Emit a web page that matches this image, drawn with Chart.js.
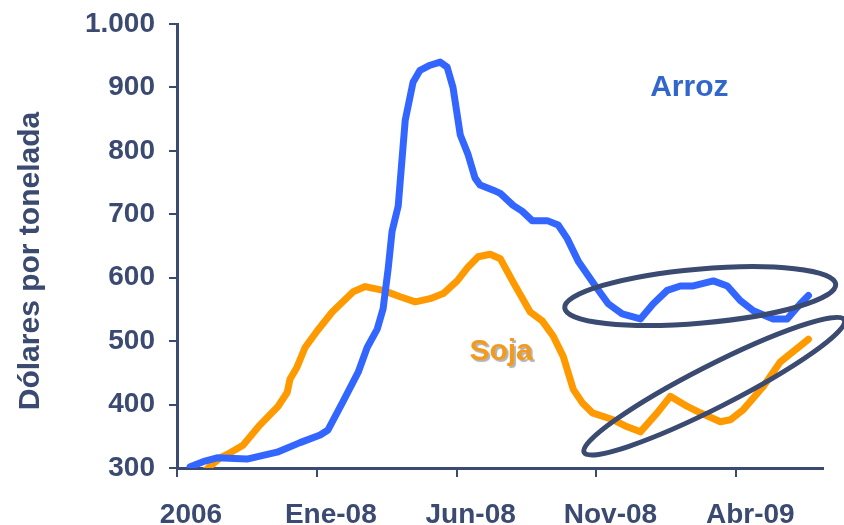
<!DOCTYPE html>
<html lang="es">
<head>
<meta charset="utf-8">
<title>Arroz y Soja</title>
<script src="https://cdn.jsdelivr.net/npm/chart.js@4.4.1/dist/chart.umd.min.js"></script>
<style>
  html, body { margin: 0; padding: 0; background: #fff; }
  #wrap { width: 844px; height: 525px; }
</style>
</head>
<body>
<div id="wrap"><canvas id="priceChart" width="844" height="525"></canvas></div>
<script>
// ---- Data ----
// x values are months counted from the "2006" tick
const xTickPos = [0, 5, 10, 15, 20];
const xTickLabels = ['2006', 'Ene-08', 'Jun-08', 'Nov-08', 'Abr-09'];

const arrozMonths = [0.47, 1.0, 1.43, 2.5, 3.58, 4.4, 5.12, 5.4, 5.94, 6.48, 6.8, 7.16, 7.37, 7.55, 7.69, 7.91,
  8.16, 8.44, 8.69, 9.05, 9.41, 9.66, 9.87, 10.13, 10.41, 10.66, 10.84, 11.31, 11.56, 12.02, 12.34, 12.7,
  13.24, 13.63, 13.95, 14.36, 14.96, 15.42, 15.92, 16.57, 17.03, 17.53, 18.0, 18.46, 19.18, 19.68, 20.14,
  20.61, 21.32, 21.82, 22.29, 22.58];
const arrozValues = [302, 311, 316, 314, 325, 340, 352, 360, 405, 451, 490, 519, 551, 614, 673, 713,
  848, 908, 927, 935, 940, 932, 900, 825, 794, 757, 746, 738, 733, 714, 705, 690,
  690, 683, 662, 625, 587, 559, 543, 535, 559, 580, 587, 587, 595, 587, 564,
  548, 535, 535, 559, 572];

const sojaMonths = [0.82, 1.54, 1.9, 2.36, 2.97, 3.61, 3.94, 4.04, 4.29, 4.58, 5.01, 5.55, 6.3, 6.73, 7.37,
  7.98, 8.52, 9.05, 9.52, 10.02, 10.41, 10.77, 11.2, 11.56, 12.02, 12.63, 13.06, 13.45, 13.81, 14.17,
  14.49, 14.85, 15.6, 16.1, 16.57, 17.17, 17.64, 18.25, 18.71, 19.43, 19.79, 20.25, 20.97, 21.57, 22.58];
const sojaValues = [289, 316, 324, 336, 368, 397, 419, 440, 459, 490, 516, 546, 578, 586, 580,
  570, 562, 567, 575, 595, 617, 633, 637, 630, 593, 546, 532, 508, 476, 424,
  403, 387, 376, 365, 357, 387, 413, 397, 387, 373, 376, 392, 429, 467, 503];

// ---- Styling ----
const NAVY = '#3b4a70';
const BLUE = '#3366ff';
const ORANGE = '#ff9900';
const FONT = '"Liberation Sans", Arial, Helvetica, sans-serif';

// annotations, anchored in data units (month, value)
const labels = [
  { text: 'Arroz', x: 18.32, y: 886, color: '#3366cc', shadow: false },
  { text: 'Soja', x: 11.59, y: 471, color: '#f39a1e', shadow: true },
];
const ellipses = [
  { x: 18.71, y: 571, rx: 136, ry: 27, rot: -5 },
  { x: 19.21, y: 429, rx: 146, ry: 21, rot: -27 },
];

function toPoints(xs, ys) {
  return xs.map((x, i) => ({ x, y: ys[i] }));
}

function formatThousands(v) {
  return String(v).replace(/\B(?=(\d{3})+(?!\d))/g, '.');
}

// ---- Plugin: axis title, series labels and the hand-drawn ellipses ----
const annotationPlugin = {
  id: 'annotations',
  afterDraw(chart) {
    const { ctx, scales } = chart;
    const xs = scales.x, ys = scales.y;

    ctx.save();
    // y axis title
    ctx.translate(31, 261);
    ctx.rotate(-Math.PI / 2);
    ctx.font = `bold 30px ${FONT}`;
    ctx.fillStyle = NAVY;
    ctx.textAlign = 'center';
    ctx.textBaseline = 'middle';
    ctx.fillText('Dólares por tonelada', 0, 0);
    ctx.restore();

    labels.forEach((l) => {
      ctx.save();
      ctx.font = `bold 30px ${FONT}`;
      ctx.fillStyle = l.color;
      ctx.textAlign = 'center';
      ctx.textBaseline = 'alphabetic';
      if (l.shadow) {
        ctx.shadowColor = 'rgba(0,0,0,0.3)';
        ctx.shadowOffsetX = 2;
        ctx.shadowOffsetY = 2;
        ctx.shadowBlur = 1;
      }
      ctx.fillText(l.text, xs.getPixelForValue(l.x), ys.getPixelForValue(l.y));
      ctx.restore();
    });

    ellipses.forEach((e) => {
      ctx.save();
      ctx.strokeStyle = NAVY;
      ctx.lineWidth = 5;
      ctx.beginPath();
      ctx.ellipse(xs.getPixelForValue(e.x), ys.getPixelForValue(e.y), e.rx, e.ry,
        e.rot * Math.PI / 180, 0, Math.PI * 2);
      ctx.stroke();
      ctx.restore();
    });
  },
};

// ---- Chart ----
function initPriceChart() {
  const canvas = document.getElementById('priceChart');
  if (!canvas) return;

  Chart.defaults.font.family = FONT;

  new Chart(canvas.getContext('2d'), {
    type: 'line',
    data: {
      datasets: [
        {
          label: 'Arroz',
          data: toPoints(arrozMonths, arrozValues),
          borderColor: BLUE,
          borderWidth: 7,
          pointRadius: 0,
          tension: 0,
          borderCapStyle: 'round',
          borderJoinStyle: 'round',
        },
        {
          label: 'Soja',
          data: toPoints(sojaMonths, sojaValues),
          borderColor: ORANGE,
          borderWidth: 7,
          pointRadius: 0,
          tension: 0,
          borderCapStyle: 'round',
          borderJoinStyle: 'round',
        },
      ],
    },
    options: {
      responsive: false,
      animation: false,
      devicePixelRatio: 1,
      layout: { padding: { top: 24, right: 21, left: 0, bottom: 0 } },
      plugins: {
        legend: { display: false },
        tooltip: { enabled: false },
      },
      scales: {
        x: {
          type: 'linear',
          min: 0,
          max: 23.1,
          afterBuildTicks: (scale) => {
            scale.ticks = xTickPos.map((v) => ({ value: v }));
          },
          afterFit: (scale) => { scale.height = 57; },
          border: { color: NAVY, width: 3 },
          grid: { drawOnChartArea: false, color: NAVY, lineWidth: 2, tickLength: 9 },
          ticks: {
            autoSkip: false,
            maxRotation: 0,
            color: NAVY,
            padding: 21,
            labelOffset: 14,
            font: { size: 28, weight: 'bold' },
            callback: (value, index) => xTickLabels[index],
          },
        },
        y: {
          min: 300,
          max: 1000,
          afterFit: (scale) => {
            scale.width = 177;
            // let layout.padding alone decide the top edge
            scale.paddingTop = 0;
            scale.paddingBottom = 0;
          },
          border: { color: NAVY, width: 3 },
          grid: { drawOnChartArea: false, color: NAVY, lineWidth: 2, tickLength: 8 },
          ticks: {
            stepSize: 100,
            color: NAVY,
            padding: 14,
            font: { size: 28, weight: 'bold' },
            callback: (value) => formatThousands(value),
          },
        },
      },
    },
    plugins: [annotationPlugin],
  });
}

document.addEventListener('DOMContentLoaded', initPriceChart);
</script>
</body>
</html>
